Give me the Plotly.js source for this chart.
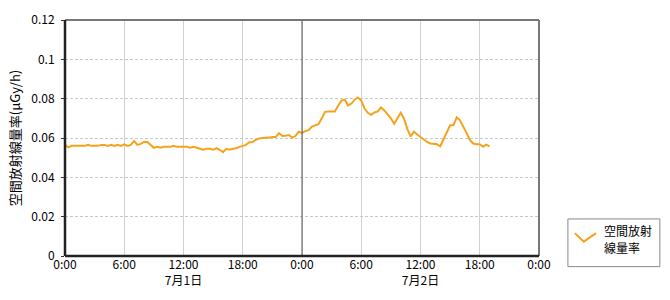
<!DOCTYPE html>
<html><head><meta charset="utf-8">
<script src="https://cdn.plot.ly/plotly-3.0.1.min.js"></script>
<style>html,body{margin:0;padding:0;background:#fff}#chart{width:670px;height:300px}</style>
</head><body><div id="chart"></div>
<script>
// hours since 7/1 0:00, 20-minute steps
var hours = [];
for (var i = 0; i <= 129; i++) hours.push(i / 3);
var doseRate = [
0.0565,0.0552,0.0560,0.0560,0.0560,0.0560,0.0560,0.0565,0.0560,0.0560,
0.0560,0.0565,0.0565,0.0560,0.0565,0.0560,0.0565,0.0560,0.0568,0.0560,
0.0565,0.0585,0.0565,0.0570,0.0580,0.0580,0.0565,0.0550,0.0555,0.0550,
0.0555,0.0555,0.0555,0.0560,0.0555,0.0555,0.0555,0.0555,0.0550,0.0555,
0.0550,0.0545,0.0540,0.0545,0.0545,0.0540,0.0548,0.0540,0.0528,0.0545,
0.0540,0.0545,0.0548,0.0555,0.0560,0.0565,0.0578,0.0580,0.0590,0.0598,
0.0600,0.0600,0.0602,0.0605,0.0605,0.0625,0.0610,0.0612,0.0615,0.0602,
0.0610,0.0632,0.0626,0.0635,0.0640,0.0658,0.0665,0.0670,0.0700,0.0733,
0.0735,0.0735,0.0735,0.0765,0.0790,0.0795,0.0765,0.0775,0.0795,0.0806,
0.0790,0.0750,0.0728,0.0718,0.0730,0.0735,0.0755,0.0740,0.0720,0.0700,
0.0672,0.0700,0.0728,0.0698,0.0645,0.0608,0.0632,0.0618,0.0605,0.0595,
0.0580,0.0572,0.0570,0.0568,0.0558,0.0595,0.0630,0.0665,0.0665,0.0705,
0.0690,0.0660,0.0625,0.0590,0.0572,0.0568,0.0568,0.0555,0.0566,0.0557
];
var xTickVals = [0, 6, 12, 18, 24, 30, 36, 42, 48];
var xTickText = ["0:00","6:00","12:00<br>7月1日","18:00","0:00","6:00","12:00<br>7月2日","18:00","0:00"];
var seriesNameLines = ["空間放射", "線量率"];
var yTitle = "空間放射線量率(μGy/h)";
var lineColor = "#F5A31A";
var font = "'Noto Sans CJK JP', 'Noto Sans', sans-serif";

var trace = {x: hours, y: doseRate, type: "scatter", mode: "lines",
  line: {color: lineColor, width: 2}, name: seriesNameLines.join(""), showlegend: false, hoverinfo: "skip"};

var layout = {
  width: 670, height: 300,
  margin: {l: 65, r: 131, t: 20, b: 44},
  paper_bgcolor: "#fff", plot_bgcolor: "#fff",
  font: {family: font, size: 12, color: "#000"},
  showlegend: false,
  xaxis: {range: [0, 48], tickvals: xTickVals, ticktext: xTickText, showgrid: true,
    gridcolor: "#d0d0d0", gridwidth: 1, zeroline: false, showline: false, ticks: "",
    tickfont: {size: 12}, fixedrange: true},
  yaxis: {range: [0, 0.12], dtick: 0.02, tick0: 0, showgrid: true, gridcolor: "#c8c8c8",
    griddash: "3px,2px", zeroline: false, showline: false, ticks: "outside", ticklen: 3,
    tickcolor: "#333", tickfont: {size: 12}, ticklabelstandoff: 4,
    title: {text: yTitle, font: {size: 13}, standoff: 7}, fixedrange: true},
  shapes: [
    {type: "line", xref: "x", yref: "paper", x0: 24, x1: 24, y0: 0, y1: 1, line: {color: "#555", width: 1}},
    {type: "line", xref: "paper", yref: "paper", x0: 0, x1: 1, y0: 1, y1: 1, line: {color: "#777", width: 2}},
    {type: "line", xref: "paper", yref: "paper", x0: 1, x1: 1, y0: 0, y1: 1, line: {color: "#777", width: 2}},
    {type: "line", xref: "paper", yref: "paper", x0: 0, x1: 0, y0: 0, y1: 1, line: {color: "#222", width: 2.5}},
    {type: "line", xref: "paper", yref: "paper", x0: 0, x1: 1, y0: 0, y1: 0, line: {color: "#222", width: 2.5}},
    // legend frame
    {type: "rect", xref: "paper", yref: "paper", x0: 1.061, x1: 1.255, y0: -0.045, y1: 0.157,
      line: {color: "#888", width: 1}, fillcolor: "#fff"},
    // legend icon
    {type: "path", xref: "paper", yref: "paper",
      path: "M 1.0755 0.097 L 1.0945 0.061 L 1.1205 0.097", line: {color: lineColor, width: 2}}
  ],
  annotations: [
    {xref: "paper", yref: "paper", x: 1.133, y: 0.108, xanchor: "left", yanchor: "middle",
      text: seriesNameLines[0], showarrow: false, font: {size: 12, color: "#000"}},
    {xref: "paper", yref: "paper", x: 1.133, y: 0.036, xanchor: "left", yanchor: "middle",
      text: seriesNameLines[1], showarrow: false, font: {size: 12, color: "#000"}}
  ]
};
Plotly.newPlot("chart", [trace], layout, {staticPlot: true, displayModeBar: false});
</script></body></html>
